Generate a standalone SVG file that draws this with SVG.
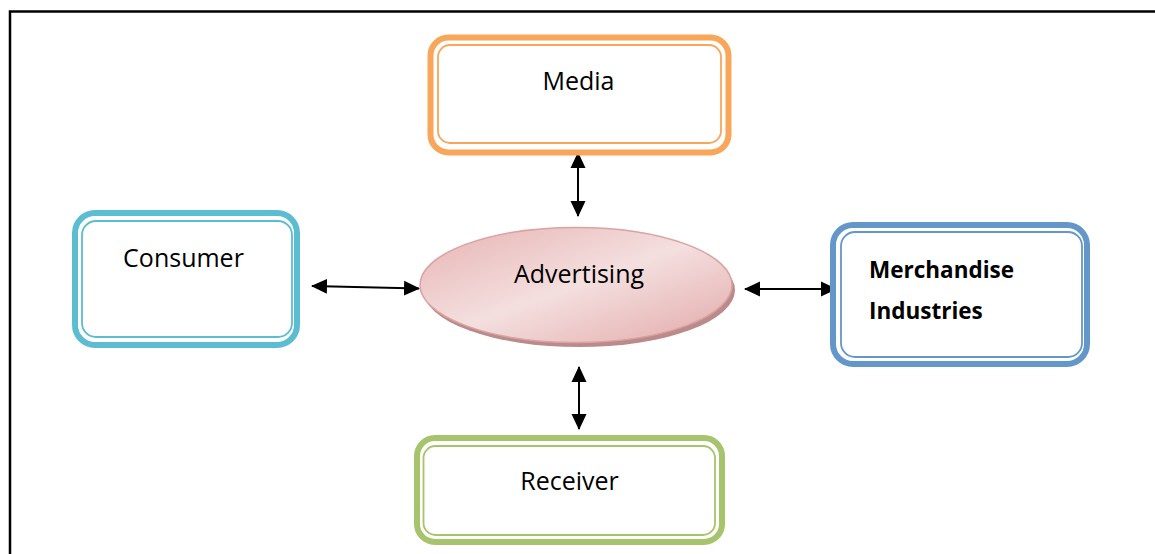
<svg xmlns="http://www.w3.org/2000/svg" width="1155" height="554" viewBox="0 0 1155 554">
  <style>
    .lbl { font-family: "Open Sans", "Liberation Sans", sans-serif; font-size: 25px; fill: #000; }
    .bold { font-family: "Open Sans", "Liberation Sans", sans-serif; font-size: 22.5px; font-weight: bold; fill: #000; }
    .outer { fill: #fff; stroke-width: 6; }
    .inner { fill: none; stroke-width: 1.8; }
    .conn { stroke: #000; stroke-width: 2; fill: none; marker-start: url(#ah); marker-end: url(#ah); }
  </style>
  <defs>
    <marker id="ah" viewBox="0 0 16 16" refX="15" refY="8" markerWidth="8" markerHeight="8" markerUnits="strokeWidth" orient="auto-start-reverse">
      <path d="M0,0.5 L16,8 L0,15.5 Z" fill="#000"/>
    </marker>
    <linearGradient id="adv" x1="0" y1="0" x2="1" y2="1">
      <stop offset="0" stop-color="#e7b3b3"/>
      <stop offset="0.5" stop-color="#f4dfdf"/>
      <stop offset="1" stop-color="#e3a9a9"/>
    </linearGradient>
  </defs>
  <rect x="0" y="0" width="1155" height="554" fill="#fff"/>
  <path d="M10,554 L10,11.5 L1155,11.5" fill="none" stroke="#000" stroke-width="2.5"/>

  <g id="connectors">
    <line class="conn" x1="578" y1="153" x2="578" y2="216"/>
    <line class="conn" x1="579" y1="367" x2="579" y2="429"/>
    <line class="conn" x1="312" y1="286" x2="419" y2="288.5"/>
    <line class="conn" x1="745" y1="289" x2="836" y2="289"/>
  </g>

  <g id="media">
    <rect class="outer" x="430.5" y="37.5" width="298" height="115" rx="18" stroke="#f9a65a"/>
    <rect class="inner" x="438" y="45" width="283" height="98" rx="12" stroke="#f9a65a"/>
    <text class="lbl" x="578.5" y="90" text-anchor="middle">Media</text>
  </g>

  <g id="consumer">
    <rect class="outer" x="75" y="213" width="222" height="132" rx="20" stroke="#5bbcd2"/>
    <rect class="inner" x="82" y="221" width="210" height="116" rx="14" stroke="#5bbcd2"/>
    <text class="lbl" x="183.5" y="267" text-anchor="middle">Consumer</text>
  </g>

  <g id="advertising">
    <ellipse cx="579" cy="290" rx="156" ry="57" fill="#bb8b8b"/>
    <ellipse cx="576" cy="285" rx="156" ry="57.5" fill="url(#adv)" stroke="#dba2a2" stroke-width="1.5"/>
    <text class="lbl" x="579" y="283" text-anchor="middle">Advertising</text>
  </g>

  <g id="merchandise">
    <rect class="outer" x="833" y="225" width="254" height="139" rx="20" stroke="#6497c9"/>
    <rect class="inner" x="841" y="232" width="241" height="125" rx="14" stroke="#6497c9"/>
    <text class="bold" x="869" y="278">Merchandise</text>
    <text class="bold" x="869" y="319">Industries</text>
  </g>

  <g id="receiver">
    <rect class="outer" x="417" y="438" width="305" height="104" rx="18" stroke="#a6c46b"/>
    <rect class="inner" x="423.5" y="446" width="291.5" height="89" rx="12" stroke="#a6c46b"/>
    <text class="lbl" x="569.5" y="490" text-anchor="middle">Receiver</text>
  </g>
</svg>
